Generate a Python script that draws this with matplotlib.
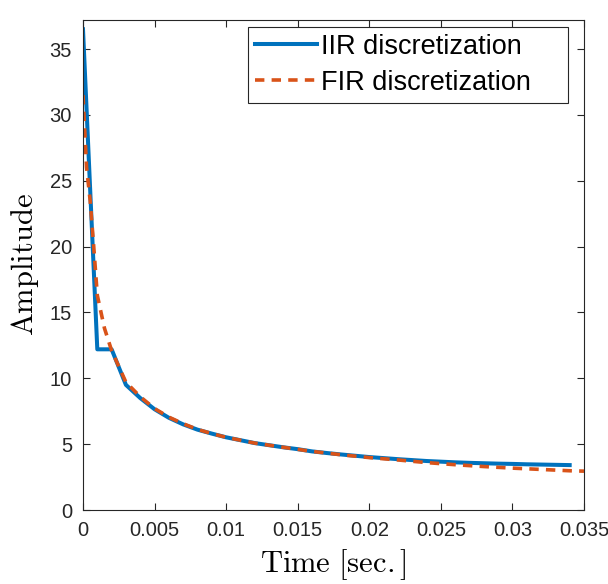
import numpy as np
import matplotlib
from matplotlib import pyplot as plt

matplotlib.use('Agg')

# IIR response, sampled every 1 ms
iir_t = np.arange(35) * 0.001
iir_y = [36.5, 12.2, 12.2, 9.5, 8.5, 7.65, 7.0, 6.5, 6.1, 5.8,
         5.52, 5.3, 5.08, 4.92, 4.76, 4.62, 4.45, 4.33, 4.22, 4.12,
         4.02, 3.94, 3.86, 3.79, 3.72, 3.67, 3.62, 3.58, 3.55, 3.52,
         3.5, 3.47, 3.45, 3.43, 3.41]

# FIR response
fir_t = [0, 0.00025, 0.0005, 0.00075, 0.001, 0.0015, 0.002, 0.003, 0.004,
         0.005, 0.006, 0.007, 0.008, 0.009, 0.010, 0.012, 0.014, 0.016,
         0.018, 0.020, 0.022, 0.024, 0.026, 0.028, 0.030, 0.032, 0.034,
         0.035]
fir_y = [31.5, 26.0, 23.5, 20.0, 16.3, 13.8, 12.1, 9.7, 8.6,
         7.7, 7.05, 6.55, 6.12, 5.8, 5.52, 5.08, 4.76, 4.45,
         4.2, 3.98, 3.8, 3.6, 3.44, 3.3, 3.18, 3.08, 2.98,
         2.95]

x_ticks = [0, 0.005, 0.01, 0.015, 0.02, 0.025, 0.03, 0.035]
x_labels = ['0', '0.005', '0.01', '0.015', '0.02', '0.025', '0.03', '0.035']
y_ticks = [0, 5, 10, 15, 20, 25, 30, 35]

plt.rcParams['font.family'] = ['Liberation Sans', 'DejaVu Sans']
plt.rcParams['mathtext.fontset'] = 'cm'

fig = plt.figure(figsize=(6.08, 5.84), dpi=100)
ax = fig.add_axes([0.1365, 0.1267, 0.824, 0.839])

# trailing spaces give the wide right margin of the MATLAB-style legend box
ax.plot(iir_t, iir_y, color='#0072BD', linewidth=2.9,
        label='IIR discretization    ')
ax.plot(fir_t, fir_y, color='#D95319', linewidth=2.6, linestyle=(0, (2.6, 2.0)),
        label='FIR discretization    ')

ax.set_xlim(0, 0.035)
ax.set_ylim(0, 37.2)
ax.set_xticks(x_ticks)
ax.set_xticklabels(x_labels)
ax.set_yticks(y_ticks)
ax.tick_params(direction='in', top=True, right=True, labelsize=14.5,
               length=5, width=0.8, colors='#262626', pad=8)
for s in ax.spines.values():
    s.set_color('#262626')
    s.set_linewidth(0.8)

ax.set_xlabel(r'$\mathrm{Time\ [sec.]}$', fontsize=22, labelpad=5)
ax.set_ylabel(r'$\mathrm{Amplitude}$', fontsize=22, labelpad=6)

leg = ax.legend(loc='upper right', fontsize=19.5, handlelength=2.3,
                handletextpad=0.15, borderpad=0.25, labelspacing=0.38,
                borderaxespad=0, fancybox=False, edgecolor='#262626',
                framealpha=1, bbox_to_anchor=(0.968, 0.986))
leg.get_frame().set_linewidth(0.8)

fig.savefig('out.png', dpi=100)
plt.close(fig)
